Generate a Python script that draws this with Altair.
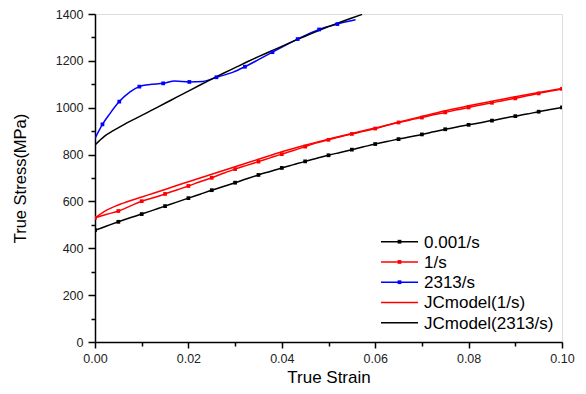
import altair as alt
import pandas as pd

# ---------------- data ----------------
STRAIN_GRID = [0.0, 0.0025, 0.005, 0.0075, 0.01, 0.0125, 0.015, 0.0175, 0.02, 0.0225,
               0.025, 0.0275, 0.03, 0.0325, 0.035, 0.0375, 0.04, 0.0425, 0.045, 0.0475,
               0.05, 0.0525, 0.055, 0.0575, 0.06, 0.0625, 0.065, 0.0675, 0.07, 0.0725,
               0.075, 0.0775, 0.08, 0.0825, 0.085, 0.0875, 0.09, 0.0925, 0.095, 0.0975, 0.1]

STRESS_0001 = [477, 495, 513, 530, 546, 563, 580, 597, 614, 631,
               648, 664, 680, 697, 713, 728, 743, 757, 771, 784,
               797, 809, 821, 833, 845, 856, 866, 876, 886, 897,
               908, 918, 927, 936, 945, 955, 964, 973, 983, 992, 1001]

STRESS_1 = [530, 545, 559, 580, 601, 616, 632, 649, 666, 684,
            701, 720, 738, 754, 770, 786, 802, 817, 834, 850,
            863, 876, 888, 899, 911, 925, 937, 948, 958, 970,
            980, 991, 1001, 1012, 1021, 1031, 1040, 1051, 1061, 1071, 1080]

MARK_EVERY = [1, 0] * 20 + [1]

STRAIN_2313 = [0.0, 0.0016, 0.0032, 0.0052, 0.0075, 0.0095, 0.0117, 0.0146, 0.0171, 0.0202,
               0.0231, 0.026, 0.0296, 0.0321, 0.035, 0.038, 0.0434, 0.048, 0.0519, 0.0558]
STRESS_2313 = [869, 929, 975, 1026, 1068, 1090, 1099, 1104, 1114, 1110,
               1112, 1130, 1152, 1175, 1205, 1237, 1293, 1334, 1357, 1375]
MARK_2313 = [0, 1, 0, 1, 0, 1, 0, 1, 0, 1, 0, 1, 0, 1, 0, 1, 1, 1, 1, 0]

STRAIN_JC1 = [0.0, 0.0025, 0.005, 0.0075, 0.01, 0.0125, 0.015, 0.0175, 0.02, 0.025,
              0.03, 0.035, 0.04, 0.045, 0.05, 0.055, 0.06, 0.065, 0.07, 0.075,
              0.08, 0.085, 0.09, 0.095, 0.1]
STRESS_JC1 = [530, 563, 585, 603, 619, 635, 651, 668, 684, 716,
              748, 780, 812, 840, 866, 890, 913, 938, 963, 987,
              1008, 1028, 1047, 1065, 1082]

STRAIN_JC2313 = [0.0, 0.002, 0.004, 0.006, 0.008, 0.01, 0.0125, 0.015, 0.0175, 0.02,
                 0.0225, 0.025, 0.0275, 0.03, 0.0325, 0.035, 0.0375, 0.04, 0.0425, 0.045,
                 0.0475, 0.05, 0.0525, 0.055, 0.0572]
STRESS_JC2313 = [841, 878, 903, 926, 947, 967, 993, 1019, 1045, 1071,
                 1097, 1122, 1147, 1171, 1195, 1218, 1240, 1262, 1284, 1305,
                 1326, 1346, 1365, 1383, 1398]

SERIES = ["0.001/s", "1/s", "2313/s", "JCmodel(1/s)", "JCmodel(2313/s)"]
COLORS = ["#000000", "#ff0000", "#0000ff", "#ff0000", "#000000"]
HAS_MARKER = [1, 1, 1, 0, 0]

X_TICKS = [0.0, 0.01, 0.02, 0.03, 0.04, 0.05, 0.06, 0.07, 0.08, 0.09, 0.1]
Y_TICKS = [0, 100, 200, 300, 400, 500, 600, 700, 800, 900, 1000, 1100, 1200, 1300, 1400]

FONT = "Liberation Sans"

# ---------------- build long table ----------------
rows = []
for s, v, m in zip(STRAIN_GRID, STRESS_0001, MARK_EVERY):
    rows.append({"series": SERIES[0], "strain": s, "stress": v, "marker": m})
for s, v, m in zip(STRAIN_GRID, STRESS_1, MARK_EVERY):
    rows.append({"series": SERIES[1], "strain": s, "stress": v, "marker": m})
for s, v, m in zip(STRAIN_2313, STRESS_2313, MARK_2313):
    rows.append({"series": SERIES[2], "strain": s, "stress": v, "marker": m})
for s, v in zip(STRAIN_JC1, STRESS_JC1):
    rows.append({"series": SERIES[3], "strain": s, "stress": v, "marker": 0})
for s, v in zip(STRAIN_JC2313, STRESS_JC2313):
    rows.append({"series": SERIES[4], "strain": s, "stress": v, "marker": 0})
df = pd.DataFrame(rows)

legend_df = pd.DataFrame({"series": SERIES, "color": COLORS, "marker": HAS_MARKER,
                          "row": list(range(len(SERIES)))})

xscale = alt.Scale(domain=[0, 0.1], nice=False, zero=False)
yscale = alt.Scale(domain=[0, 1400], nice=False)
cscale = alt.Scale(domain=SERIES, range=COLORS)

x_axis = alt.Axis(
    values=X_TICKS, format=".2f",
    labelExpr="round(datum.value*100) % 2 == 0 ? datum.label : ''",
    tickSize={"condition": {"test": "round(datum.value*100) % 2 == 0", "value": 6}, "value": 4},
    title="True Strain", titleFontSize=17, titleFontWeight="normal", titleFont=FONT,
    titlePadding=5, labelFontSize=12.5, labelFont=FONT, labelColor="#222222",
    labelPadding=4, grid=False, domainColor="#000000", domainWidth=1.5,
    tickColor="#000000", tickWidth=1.5, labelOverlap=False, labelFlush=False,
)
y_axis = alt.Axis(
    values=Y_TICKS, format="d",
    labelExpr="datum.value % 200 == 0 ? datum.label : ''",
    tickSize={"condition": {"test": "datum.value % 200 == 0", "value": 7}, "value": 4},
    title="True Stress(MPa)", titleFontSize=16.5, titleFontWeight="normal", titleFont=FONT,
    titlePadding=27, labelFontSize=12.5, labelFont=FONT, labelColor="#222222",
    labelPadding=5, grid=False, domainColor="#000000", domainWidth=1.5,
    tickColor="#000000", tickWidth=1.5, labelOverlap=False,
)

lines = alt.Chart(df).mark_line(strokeWidth=1.5, clip=True, interpolate="monotone").encode(
    x=alt.X("strain:Q", scale=xscale, axis=x_axis),
    y=alt.Y("stress:Q", scale=yscale, axis=y_axis),
    color=alt.Color("series:N", scale=cscale, legend=None),
    detail="series:N",
)

points = alt.Chart(df).transform_filter("datum.marker == 1").mark_square(
    size=14, filled=True, opacity=1, clip=True
).encode(
    x=alt.X("strain:Q", scale=xscale, axis=x_axis),
    y=alt.Y("stress:Q", scale=yscale, axis=None),
    color=alt.Color("series:N", scale=cscale, legend=None),
)

lscale = alt.Scale(domain=[0, 4], range=[227.7, 308.7])

leg_lines = alt.Chart(legend_df).mark_rule(strokeWidth=1.5).encode(
    x=alt.value(286), x2=alt.value(323),
    y=alt.Y("row:Q", scale=lscale, axis=None),
    color=alt.Color("color:N", scale=None),
)
leg_marks = alt.Chart(legend_df).transform_filter("datum.marker == 1").mark_square(
    size=14, filled=True, opacity=1
).encode(
    x=alt.value(304.5),
    y=alt.Y("row:Q", scale=lscale, axis=None),
    color=alt.Color("color:N", scale=None),
)
leg_text = alt.Chart(legend_df).mark_text(
    align="left", baseline="middle", fontSize=17, font=FONT, color="#000000", dy=1
).encode(
    x=alt.value(329),
    y=alt.Y("row:Q", scale=lscale, axis=None),
    text="series:N",
)

chart = alt.layer(lines, points, leg_lines, leg_marks, leg_text).resolve_scale(
    y="independent"
).properties(
    width=467, height=328,
    autosize=alt.AutoSizeParams(type="none"),
    padding={"left": 87, "top": 6, "right": 14, "bottom": 44},
).configure_view(stroke=None).configure(background="#ffffff")

chart.save("out.html", embed_options={"renderer": "svg", "actions": False})
